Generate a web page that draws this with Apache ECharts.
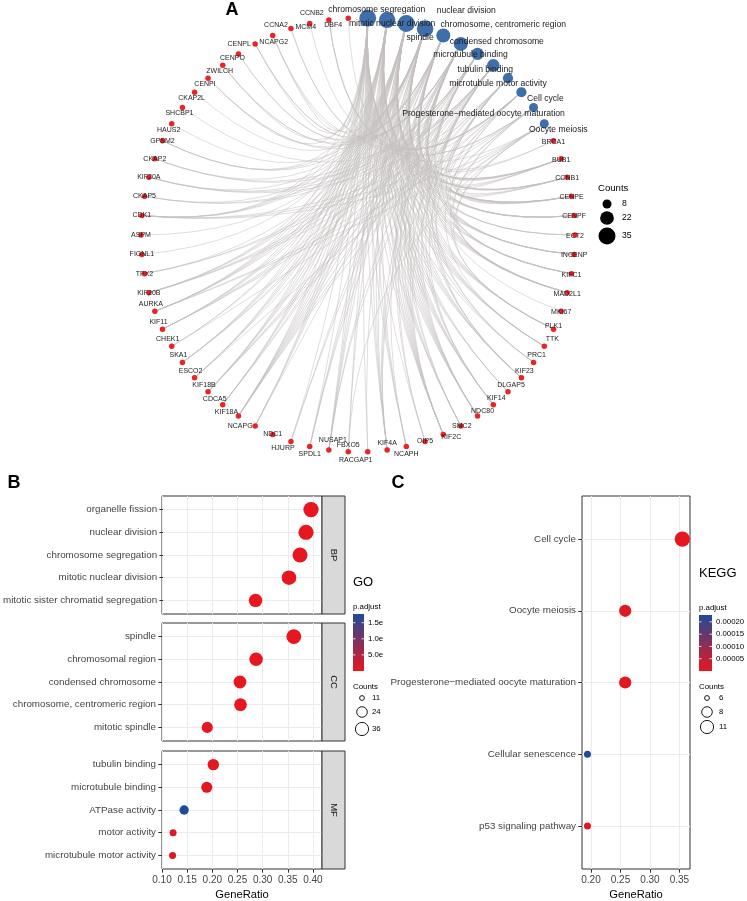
<!DOCTYPE html>
<html><head><meta charset="utf-8">
<script src="https://cdn.jsdelivr.net/npm/echarts@6/dist/echarts.min.js"></script>
<style>html,body{margin:0;padding:0;background:#fff}#c{width:747px;height:901px}</style>
</head><body><div id="c"></div>
<script>
const FONT = '"Liberation Sans", Arial, Helvetica, sans-serif';

// ---------- Panel A: gene-concept network ----------
const termNames = ['chromosome segregation','mitotic nuclear division','nuclear division','spindle',
  'chromosome, centromeric region','condensed chromosome','microtubule binding','tubulin binding',
  'microtubule motor activity','Cell cycle','Progesterone\u2212mediated oocyte maturation','Oocyte meiosis'];
const geneNames = ['BRCA1','BUB1','CCNB1','CENPE','CENPF','ECT2','INCENP','KIFC1','MAD2L1','MKI67','PLK1','TTK',
  'PRC1','KIF23','DLGAP5','KIF14','NDC80','SMC2','KIF2C','OIP5','NCAPH','KIF4A','RACGAP1','FBXO5','NUSAP1',
  'SPDL1','HJURP','NDC1','NCAPG','KIF18A','CDCA5','KIF18B','ESCO2','SKA1','CHEK1','KIF11','AURKA','KIF20B',
  'TPX2','FIGNL1','ASPM','CDK1','CKAP5','KIF20A','CKAP2','GPSM2','HAUS2','SHCBP1','CKAP2L','CENPI','ZWILCH',
  'CENPO','CENPL','NCAPG2','CCNA2','MCM4','CCNB2','DBF4'];
const genesChromSeg = ['AURKA','BUB1','CCNB1','CDCA5','CDK1','CENPE','CENPF','CENPI','DLGAP5','ESCO2','HJURP','INCENP',
  'KIF18A','KIF18B','KIF2C','KIF4A','KIF14','KIF23','MAD2L1','NCAPG','NCAPG2','NCAPH','NDC80','NUSAP1','OIP5','PLK1',
  'PRC1','SKA1','SMC2','SPDL1','TTK','ZWILCH','CENPL','RACGAP1'];
const genesMitNucDiv = ['AURKA','BUB1','CCNB1','CDCA5','CDK1','CENPE','CENPF','CHEK1','DLGAP5','ECT2','ESCO2','FBXO5',
  'GPSM2','INCENP','KIF11','KIF14','KIF18A','KIF18B','KIF20B','KIF23','KIF2C','KIF4A','KIFC1','MAD2L1','NCAPG','NCAPH',
  'NDC80','NUSAP1','PLK1','SKA1','SMC2','TTK'];
const genesNucDiv = ['AURKA','BRCA1','BUB1','CCNB1','CDCA5','CDK1','CENPE','CENPF','CHEK1','DLGAP5','ECT2','ESCO2','FBXO5',
  'FIGNL1','GPSM2','INCENP','KIF11','KIF14','KIF18A','KIF18B','KIF20B','KIF23','KIF2C','KIF4A','KIFC1','MAD2L1','NCAPG',
  'NCAPG2','NCAPH','NDC80','NUSAP1','PLK1','SKA1','SMC2','TTK'];
const genesSpindle = ['AURKA','BUB1','CCNB1','CDK1','CENPE','CENPF','CKAP2','CKAP5','ECT2','GPSM2','HAUS2','INCENP','KIF11',
  'KIF14','KIF18A','KIF18B','KIF20A','KIF20B','KIF23','KIF2C','KIF4A','KIFC1','MAD2L1','NDC80','NUSAP1','PLK1','PRC1',
  'RACGAP1','SPDL1','TPX2','TTK','ASPM','CKAP2L'];
const genesCentromeric = ['CENPE','CENPF','INCENP','BUB1','MAD2L1','NDC80','KIF2C','SKA1','CENPI','CENPL','CENPO','ZWILCH',
  'SPDL1','HJURP','OIP5','CDCA5','KIF18A','PLK1','AURKA','TTK','ESCO2','SMC2','CCNB1'];
const genesCondensed = ['CENPE','CENPF','INCENP','BUB1','MAD2L1','NDC80','SMC2','NCAPH','NCAPG','NCAPG2','KIF2C','SKA1',
  'CENPI','CENPL','CENPO','ZWILCH','SPDL1','HJURP','OIP5','CDCA5','KIF18A','MKI67','BRCA1'];
const genesMTBinding = ['KIF11','KIF14','KIF18A','KIF18B','KIF20A','KIF20B','KIF23','KIF2C','KIF4A','KIFC1','CENPE','CKAP5',
  'CKAP2','NUSAP1','PRC1','TPX2','NDC80'];
const genesTubulin = ['KIF11','KIF14','KIF18A','KIF18B','KIF20A','KIF20B','KIF23','KIF2C','KIF4A','KIFC1','CENPE','CKAP5',
  'CKAP2','NUSAP1','PRC1','TPX2','NDC80','SHCBP1'];
const genesMTMotor = ['KIF11','KIF14','KIF18A','KIF18B','KIF20A','KIF20B','KIF23','KIF2C','KIF4A','KIFC1','CENPE'];
const genesCellCycle = ['BUB1','CCNA2','CCNB1','CCNB2','CDK1','CHEK1','DBF4','ESCO2','MAD2L1','MCM4','TTK'];
const genesProgesterone = ['BUB1','CCNA2','CCNB1','CCNB2','CDK1','MAD2L1','PLK1','AURKA'];
const genesOocyte = ['AURKA','BUB1','CCNB1','CCNB2','CDK1','FBXO5','MAD2L1','PLK1'];
const termGeneLists = [genesChromSeg, genesMitNucDiv, genesNucDiv, genesSpindle, genesCentromeric, genesCondensed,
  genesMTBinding, genesTubulin, genesMTMotor, genesCellCycle, genesProgesterone, genesOocyte];
const countBreaksA = [8, 22, 35];

// ---------- Panel B: GO dotplot ----------
const bpTerms = ['organelle fission','nuclear division','chromosome segregation','mitotic nuclear division','mitotic sister chromatid segregation'];
const bpRatio = [0.396, 0.386, 0.374, 0.352, 0.285];
const bpCount = [36, 35, 34, 32, 26];
const bpPadj = [1.2e-12, 3.5e-12, 2.0e-11, 8.9e-11, 4.1e-9];
const ccTerms = ['spindle','chromosomal region','condensed chromosome','chromosome, centromeric region','mitotic spindle'];
const ccRatio = [0.362, 0.287, 0.255, 0.256, 0.190];
const ccCount = [33, 26, 23, 23, 17];
const ccPadj = [6.3e-10, 2.2e-8, 1.1e-9, 5.0e-8, 2.0e-7];
const mfTerms = ['tubulin binding','microtubule binding','ATPase activity','motor activity','microtubule motor activity'];
const mfRatio = [0.202, 0.189, 0.144, 0.122, 0.121];
const mfCount = [18, 17, 13, 11, 11];
const mfPadj = [3.1e-7, 4.0e-7, 1.77e-5, 1.2e-6, 9.0e-7];
const goTickLabels = [0.10, 0.15, 0.20, 0.25, 0.30, 0.35, 0.40];
const goPadjBreaks = [1.5e-5, 1.0e-5, 5.0e-6];
const goPadjLabels = ['1.5e', '1.0e', '5.0e'];
const goCountBreaks = [11, 24, 36];

// ---------- Panel C: KEGG dotplot ----------
const keggTerms = ['Cell cycle','Oocyte meiosis','Progesterone\u2212mediated oocyte maturation','Cellular senescence','p53 signaling pathway'];
const keggRatio = [0.355, 0.258, 0.258, 0.194, 0.194];
const keggCount = [11, 8, 8, 6, 6];
const keggPadj = [1.5e-9, 4.2e-6, 4.2e-6, 2.28e-4, 4.6e-6];
const keggTickLabels = [0.20, 0.25, 0.30, 0.35];
const keggPadjBreaks = [0.00020, 0.00015, 0.00010, 0.00005];
const keggCountBreaks = [6, 8, 11];

// ================= styles / layout =================
const RED = '#E8232A', BLUE_NODE = '#3E6FA9';
const P_LOW = '#E8161F', P_HIGH = '#1F4A98';
const TXT = '#444444';

const nodeOrder = termNames.concat(geneNames);
const N = nodeOrder.length;
const termCounts = termGeneLists.map(l => l.length);
const cMinA = Math.min(...termCounts), cMaxA = Math.max(...termCounts);
function sizeA(c) { return Math.sqrt(81 + 208 * (c - cMinA) / (cMaxA - cMinA)); }

const termLabelOffset = {
  'chromosome segregation': [9, -9], 'mitotic nuclear division': [5, 4], 'nuclear division': [60, -13],
  'spindle': [-5, 9], 'chromosome, centromeric region': [60, -11], 'condensed chromosome': [36, -2],
  'microtubule binding': [-7, 1], 'tubulin binding': [-8, 4], 'microtubule motor activity': [-10, 5],
  'Cell cycle': [24, 6], 'Progesterone\u2212mediated oocyte maturation': [-50, 6], 'Oocyte meiosis': [14, 6]
};
const geneLabelOverride = {
  PLK1: [0, -3], TTK: [8, -7], NDC80: [5, -5], SMC2: [1, 0], KIF2C: [8, 3], OIP5: [0, 0], NCAPH: [0, 8],
  KIF4A: [0, -7], RACGAP1: [-12, 8], FBXO5: [0, -7], NUSAP1: [4, -10], SPDL1: [0, 8], HJURP: [-8, 7],
  NDC1: [0, 0], NCAPG: [-15, 0], KIF18A: [-12, -4], CDCA5: [-8, -6], CENPO: [-6, 4], CENPL: [-16, 0],
  NCAPG2: [1, 7], CCNA2: [-15, -4], MCM4: [-4, 4], CCNB2: [-17, -7], DBF4: [-15, 7]
};
function geneLabelOffset(name, deg) {
  if (geneLabelOverride[name]) return geneLabelOverride[name];
  if (deg < 118) return [0, 1];
  if (deg < 150) return [3, -7];
  if (deg < 205) return [0, 0];
  if (deg < 252) return [-4, -7];
  if (deg < 298) return [0, 0];
  return [-3, 6];
}

const pos = {};
const nodes = nodeOrder.map((name, i) => {
  const ang = (i + 0.5) * 2 * Math.PI / N;
  const deg = ang * 180 / Math.PI;
  const isTerm = i < termNames.length;
  pos[name] = [Math.sin(ang), Math.cos(ang)];
  return {
    name: name,
    value: pos[name],
    symbolSize: isTerm ? sizeA(termCounts[i]) : 5.5,
    itemStyle: { color: isTerm ? BLUE_NODE : RED },
    label: {
      show: true, position: 'inside',
      offset: isTerm ? termLabelOffset[name] : geneLabelOffset(name, deg),
      fontSize: isTerm ? 8.6 : 7, color: isTerm ? '#1a1a1a' : '#222', fontFamily: FONT
    }
  };
});
// arc edges bend toward the circle centre (control point at the centre, as in ggraph circular arcs)
function arcCurveness(a, b) {
  const p1 = [a[0], -a[1]], p2 = [b[0], -b[1]];          // screen orientation (y down)
  const m = [(p1[0] + p2[0]) / 2, (p1[1] + p2[1]) / 2];
  const v = [-m[0], -m[1]];
  const d = [p2[0] - p1[0], p2[1] - p1[1]];
  const L2 = d[0] * d[0] + d[1] * d[1];
  return (v[0] * d[1] - v[1] * d[0]) / L2;
}
const links = [];
termNames.forEach((t, ti) => termGeneLists[ti].forEach(g => links.push({
  source: t, target: g, lineStyle: { curveness: arcCurveness(pos[t], pos[g]) } })));

// ---------- dotplot helpers ----------
function dotSize(c, lo, hi) { return 7 + 8.3 * Math.sqrt((c - lo) / (hi - lo)); }
const goAllCounts = bpCount.concat(ccCount, mfCount);
const goCMin = Math.min(...goAllCounts), goCMax = Math.max(...goAllCounts);
const kCMin = Math.min(...keggCount), kCMax = Math.max(...keggCount);
const goAllP = bpPadj.concat(ccPadj, mfPadj);
const goPMin = Math.min(...goAllP), goPMax = Math.max(...goAllP);
const kPMin = Math.min(...keggPadj), kPMax = Math.max(...keggPadj);

const grids = [], xAxes = [], yAxes = [];
// grid 0: network
grids.push({ left: 141, top: 18, width: 434, height: 434, show: false });
xAxes.push({ type: 'value', gridIndex: 0, min: -1, max: 1, show: false });
yAxes.push({ type: 'value', gridIndex: 0, min: -1, max: 1, show: false });

const GO_X = { min: 0.1, max: 0.418 };
const KG_X = { min: 0.1847, max: 0.368 };
function frameX(gi, ext, showLabels, ticks) {
  return {
    type: 'value', gridIndex: gi, min: ext.min, max: ext.max, minInterval: 0.025, maxInterval: 0.025,
    axisLine: { show: false },
    axisTick: { show: showLabels, length: 3.7, customValues: ticks, lineStyle: { color: '#333', width: 1 } },
    axisLabel: { show: showLabels, customValues: ticks, color: TXT, fontSize: 10, fontFamily: FONT, margin: 6,
      formatter: v => (Math.abs(v * 20 - Math.round(v * 20)) < 1e-6 ? v.toFixed(2) : ''),
      showMinLabel: true, showMaxLabel: true },
    splitLine: { show: true, lineStyle: { color: '#EBEBEB', width: 1 } },
    name: showLabels ? 'GeneRatio' : '', nameLocation: 'middle', nameGap: 20,
    nameTextStyle: { fontSize: 11.2, color: '#000', fontFamily: FONT }
  };
}
function addPanel(left, width, top, height, ext, terms, showX, ticks) {
  const u = height / 5.2;
  const fi = grids.length;
  grids.push({ left: left, top: top, width: width, height: height, show: true, borderColor: '#333', borderWidth: 1, backgroundColor: '#fff', z: 0 });
  xAxes.push(frameX(fi, ext, showX, ticks));
  yAxes.push({ type: 'value', gridIndex: fi, min: 0, max: 1, show: false });
  const di = grids.length;
  grids.push({ left: left, top: top + 0.6 * u, width: width, height: 4 * u, show: false });
  xAxes.push({ type: 'value', gridIndex: di, min: ext.min, max: ext.max, show: false });
  yAxes.push({ type: 'category', gridIndex: di, data: terms, inverse: true, boundaryGap: false,
    axisLine: { show: false },
    axisTick: { show: true, length: 3.7, lineStyle: { color: '#333', width: 1 } },
    axisLabel: { color: TXT, fontSize: 9.8, fontFamily: FONT, margin: 6 },
    splitLine: { show: true, lineStyle: { color: '#EBEBEB', width: 1 } } });
  return di;
}
const bpG = addPanel(162, 160, 496, 118, GO_X, bpTerms, false, goTickLabels);
const ccG = addPanel(162, 160, 623, 118, GO_X, ccTerms, false, goTickLabels);
const mfG = addPanel(162, 160, 751, 118, GO_X, mfTerms, true, goTickLabels);
const kgG = addPanel(582, 108, 496, 373, KG_X, keggTerms, true, keggTickLabels);

function dotSeries(gi, terms, ratio, count, padj, lo, hi) {
  return {
    type: 'scatter', xAxisIndex: gi, yAxisIndex: gi, z: 5,
    data: terms.map((t, i) => [ratio[i], t, count[i], padj[i]]),
    symbolSize: v => dotSize(v[2], lo, hi),
    itemStyle: { opacity: 1 }, silent: true
  };
}

const series = [
  { type: 'graph', coordinateSystem: 'cartesian2d', xAxisIndex: 0, yAxisIndex: 0, layout: 'none',
    data: nodes, links: links, silent: true, z: 3,
    lineStyle: { color: '#C4BFBF', opacity: 0.7, width: 0.75 },
    emphasis: { disabled: true } },
  dotSeries(bpG, bpTerms, bpRatio, bpCount, bpPadj, goCMin, goCMax),
  dotSeries(ccG, ccTerms, ccRatio, ccCount, ccPadj, goCMin, goCMax),
  dotSeries(mfG, mfTerms, mfRatio, mfCount, mfPadj, goCMin, goCMax),
  dotSeries(kgG, keggTerms, keggRatio, keggCount, keggPadj, kCMin, kCMax)
];

// ---------- graphics: panel letters, legends ----------
const G = [];
function txt(x, y, s, size, opts) {
  opts = opts || {};
  G.push({ type: 'text', x: x, y: y, z: 10, rotation: opts.rot || 0,
    style: { text: s, fontSize: size, fontFamily: FONT, fontWeight: opts.bold ? 'bold' : 'normal',
      fill: opts.color || '#000', align: opts.align || 'left', verticalAlign: 'middle',
      textAlign: opts.align || 'left', textVerticalAlign: 'middle' } });
}
txt(232, 10, 'A', 18, { bold: true, align: 'center' });
txt(14, 483, 'B', 18, { bold: true, align: 'center' });
txt(398, 483, 'C', 18, { bold: true, align: 'center' });

// strips
[[496, 'BP'], [623, 'CC'], [751, 'MF']].forEach(s => {
  G.push({ type: 'rect', z: 4, shape: { x: 322, y: s[0], width: 23, height: 118 },
    style: { fill: '#D9D9D9', stroke: '#333', lineWidth: 1 } });
  txt(333.5, s[0] + 59, s[1], 9.5, { rot: -Math.PI / 2, align: 'center', color: '#1A1A1A' });
});

// Panel A size legend
txt(598, 188, 'Counts', 9.6);
const aLegY = [204, 218, 236];
countBreaksA.forEach((c, i) => {
  G.push({ type: 'circle', z: 10, shape: { cx: 607, cy: aLegY[i], r: sizeA(c) / 2 }, style: { fill: '#000' } });
  txt(622, aLegY[i], String(c), 8.6);
});

// colorbar helper
function colorbar(x, y, w, h, pmin, pmax, breaks, labels, labelX) {
  G.push({ type: 'rect', z: 10, shape: { x: x, y: y, width: w, height: h },
    style: { fill: { type: 'linear', x: 0, y: 0, x2: 0, y2: 1,
      colorStops: [{ offset: 0, color: P_HIGH }, { offset: 1, color: P_LOW }] } } });
  breaks.forEach((b, i) => {
    const yy = y + h - (b - pmin) / (pmax - pmin) * h;
    G.push({ type: 'line', z: 11, shape: { x1: x, y1: yy, x2: x + 2.5, y2: yy }, style: { stroke: '#fff', lineWidth: 0.8 } });
    G.push({ type: 'line', z: 11, shape: { x1: x + w - 2.5, y1: yy, x2: x + w, y2: yy }, style: { stroke: '#fff', lineWidth: 0.8 } });
    txt(labelX, yy, labels[i], 7.8);
  });
}
// GO legend
txt(353, 582, 'GO', 13);
txt(353, 607, 'p.adjust', 7.9);
colorbar(353, 614, 11, 57, goPMin, goPMax, goPadjBreaks, goPadjLabels, 368);
txt(353, 687, 'Counts', 7.9);
const goLegY = [698, 712, 729], goLegR = [2.4, 5.3, 6.6];
goCountBreaks.forEach((c, i) => {
  G.push({ type: 'circle', z: 10, shape: { cx: 362, cy: goLegY[i], r: goLegR[i] }, style: { fill: 'none', stroke: '#000', lineWidth: 0.9 } });
  txt(372, goLegY[i], String(c), 7.8);
});
// KEGG legend
txt(699, 573, 'KEGG', 13);
txt(699, 608, 'p.adjust', 7.9);
colorbar(699, 615, 13, 56, kPMin, kPMax, keggPadjBreaks, keggPadjBreaks.map(v => v.toFixed(5)), 716);
txt(699, 687, 'Counts', 7.9);
const kgLegY = [698, 712, 727], kgLegR = [2.4, 5.3, 6.6];
keggCountBreaks.forEach((c, i) => {
  G.push({ type: 'circle', z: 10, shape: { cx: 707, cy: kgLegY[i], r: kgLegR[i] }, style: { fill: 'none', stroke: '#000', lineWidth: 0.9 } });
  txt(719, kgLegY[i], String(c), 7.8);
});

const chart = echarts.init(document.getElementById('c'), null, { renderer: 'canvas' });
chart.setOption({
  animation: false,
  backgroundColor: '#fff',
  textStyle: { fontFamily: FONT },
  grid: grids, xAxis: xAxes, yAxis: yAxes,
  visualMap: [
    { type: 'continuous', show: false, seriesIndex: [1, 2, 3], dimension: 3, min: goPMin, max: goPMax, inRange: { color: [P_LOW, P_HIGH] } },
    { type: 'continuous', show: false, seriesIndex: [4], dimension: 3, min: kPMin, max: kPMax, inRange: { color: [P_LOW, P_HIGH] } }
  ],
  series: series,
  graphic: G
});
</script></body></html>
